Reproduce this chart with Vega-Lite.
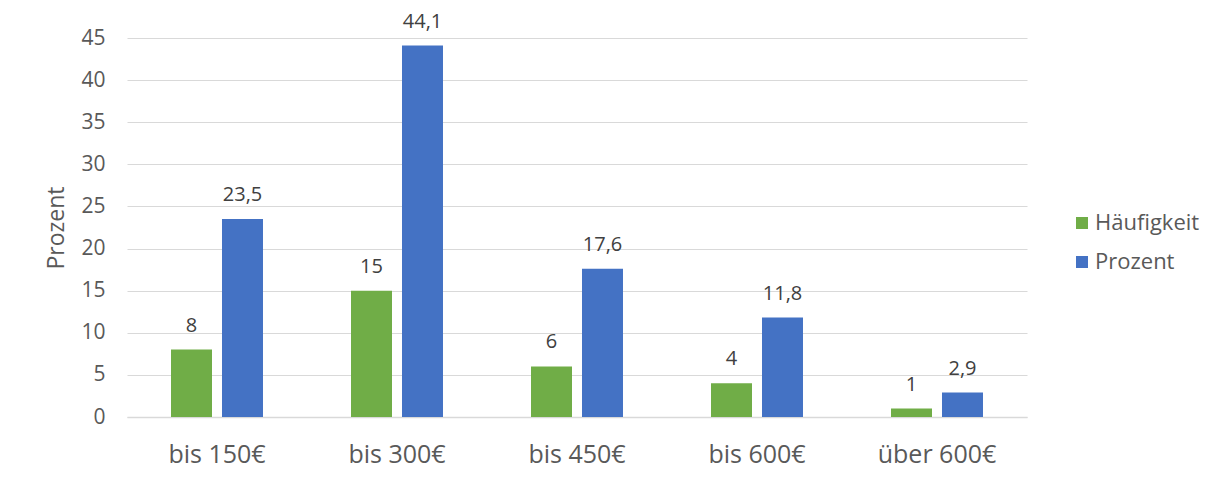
{
  "$schema": "https://vega.github.io/schema/vega-lite/v6.json",
  "width": 900,
  "height": 379,
  "autosize": "none",
  "padding": {"left": 127, "top": 38, "right": 194, "bottom": 66},
  "background": "white",
  "config": {
    "locale": {"number": {"decimal": ",", "thousands": ".", "grouping": [3], "currency": ["", " €"]}},
    "font": "Open Sans",
    "view": {"stroke": null}
  },
  "data": {
    "values": [
      {"kategorie": "bis 150€", "reihe": "Häufigkeit", "wert": 8},
      {"kategorie": "bis 150€", "reihe": "Prozent", "wert": 23.5},
      {"kategorie": "bis 300€", "reihe": "Häufigkeit", "wert": 15},
      {"kategorie": "bis 300€", "reihe": "Prozent", "wert": 44.1},
      {"kategorie": "bis 450€", "reihe": "Häufigkeit", "wert": 6},
      {"kategorie": "bis 450€", "reihe": "Prozent", "wert": 17.6},
      {"kategorie": "bis 600€", "reihe": "Häufigkeit", "wert": 4},
      {"kategorie": "bis 600€", "reihe": "Prozent", "wert": 11.8},
      {"kategorie": "über 600€", "reihe": "Häufigkeit", "wert": 1},
      {"kategorie": "über 600€", "reihe": "Prozent", "wert": 2.9}
    ]
  },
  "encoding": {
    "x": {
      "field": "kategorie", "type": "nominal", "sort": null,
      "scale": {"paddingInner": 0, "paddingOuter": 0},
      "axis": {
        "title": null, "labelAngle": 0, "labelFontSize": 25, "labelColor": "#595959",
        "labelPadding": 25, "ticks": false, "domain": true, "domainColor": "#d9d9d9", "domainWidth": 1.5, "grid": false
      }
    },
    "xOffset": {
      "field": "reihe", "type": "nominal",
      "scale": {"paddingInner": 0.196, "paddingOuter": 0.863}
    },
    "y": {
      "field": "wert", "type": "quantitative",
      "scale": {"domain": [0, 45], "nice": false},
      "axis": {
        "title": "Prozent", "titleFontSize": 23, "titleFontWeight": "normal", "titleColor": "#595959",
        "titlePadding": 12,
        "values": [0, 5, 10, 15, 20, 25, 30, 35, 40, 45],
        "labelFontSize": 21, "labelColor": "#595959", "labelPadding": 22,
        "ticks": false, "domain": false, "grid": true, "gridColor": "#d9d9d9", "gridWidth": 1
      }
    }
  },
  "layer": [
    {
      "mark": {"type": "bar"},
      "encoding": {
        "color": {
          "field": "reihe", "type": "nominal",
          "scale": {"domain": ["Häufigkeit", "Prozent"], "range": ["#70ad47", "#4472c4"]},
          "legend": {
            "title": null, "orient": "none", "legendX": 944, "legendY": 174,
            "symbolType": "square", "symbolSize": 144, "symbolStrokeWidth": 0,
            "labelFontSize": 22, "labelColor": "#595959", "labelOffset": 2, "rowPadding": 17
          }
        }
      }
    },
    {
      "mark": {"type": "text", "baseline": "bottom", "dy": -14, "fontSize": 20, "color": "#404040"},
      "encoding": {
        "text": {"field": "wert", "type": "quantitative", "format": ".1~f"}
      }
    }
  ]
}
